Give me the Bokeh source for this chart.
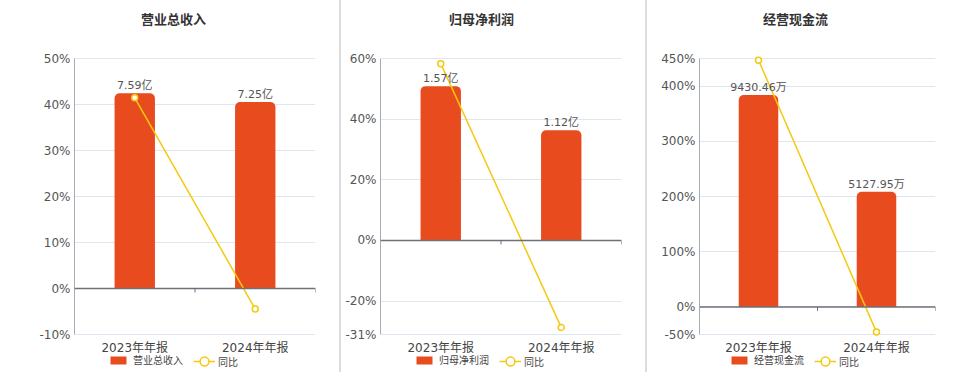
from bokeh.plotting import figure
from bokeh.models import (Range1d, FixedTicker, PrintfTickFormatter, Span, Label,
                          Legend, LegendItem, ColumnDataSource, Div)
from bokeh.layouts import row
from bokeh.embed import file_html
from bokeh.resources import INLINE
from bokeh.core.properties import value

# ---- data ----
periods = ["2023年年报", "2024年年报"]

revenue = [7.59, 7.25]
revenue_labels = ["7.59亿", "7.25亿"]
revenue_yoy = [41.46, -4.48]
revenue_ticks = [-10, 0, 10, 20, 30, 40, 50]

profit = [1.57, 1.12]
profit_labels = ["1.57亿", "1.12亿"]
profit_yoy = [58.3, -28.66]
profit_ticks = [-31, -20, 0, 20, 40, 60]

cashflow = [9430.46, 5127.95]
cashflow_labels = ["9430.46万", "5127.95万"]
cashflow_yoy = [447.0, -45.62]
cashflow_ticks = [-50, 0, 100, 200, 300, 400, 450]

titles = ["营业总收入", "归母净利润", "经营现金流"]
yoy_name = "同比"

# ---- style / layout ----
FONT = "DejaVu Sans, Noto Sans CJK SC"
RED = "#E84C1E"
YEL = "#F5C911"
H = 372
PLOT_TOP = 58      # pixel row of the top tick
PLOT_BOTTOM = 334  # pixel row of the bottom tick
SPAN_PX = PLOT_BOTTOM - PLOT_TOP


def panel(title, vals, labels, yoy, ticks, width, bl, br, bar_max, title_x, legend_x):
    ymin, ymax = ticks[0], ticks[-1]
    k = (ymax - ymin) / SPAN_PX
    y_lo = ymin - (H - PLOT_BOTTOM) * k
    y_hi = ymax + PLOT_TOP * k
    p = figure(width=width, height=H, x_range=Range1d(0, 2), y_range=Range1d(y_lo, y_hi),
               output_backend="svg", toolbar_location=None, title=None, x_axis_location=None,
               min_border_left=bl, min_border_right=br, min_border_top=0, min_border_bottom=0)
    p.outline_line_color = None
    p.background_fill_color = "white"
    p.border_fill_color = "white"
    bscale = bar_max / ymax
    p.extra_y_ranges = {"bars": Range1d(y_lo * bscale, y_hi * bscale)}

    src = ColumnDataSource(dict(x=[0.5, 1.5], v=vals, lab=labels, yoy=yoy,
                                per=periods, base=[ymin, ymin]))

    # y axis
    p.yaxis.ticker = FixedTicker(ticks=ticks)
    p.yaxis.bounds = (ymin, ymax)
    p.ygrid.ticker = FixedTicker(ticks=ticks)
    p.yaxis.formatter = PrintfTickFormatter(format="%d%%")
    p.yaxis.axis_line_color = "#A8ABB2"
    p.yaxis.major_tick_in = 0
    p.yaxis.major_tick_out = 0
    p.yaxis.minor_tick_in = 0
    p.yaxis.minor_tick_out = 0
    p.yaxis.major_label_standoff = 4
    p.yaxis.major_label_text_font_size = "12px"
    p.yaxis.major_label_text_color = "#555555"
    p.yaxis.major_label_text_font = FONT
    p.ygrid.grid_line_color = "#E0E6F1"
    p.ygrid.bounds = (ymin, ymax)
    p.xgrid.visible = False

    bars = p.vbar(x="x", top="v", bottom=0, width=0.335, y_range_name="bars", source=src,
                  fill_color=RED, line_color=None, border_radius=(5, 5, 0, 0))

    # category axis along zero
    p.add_layout(Span(location=0, dimension="width", line_color="#6E7079", line_width=1.5))
    d = 4 * k
    p.segment(x0=[1, 2], y0=[0, 0], x1=[1, 2], y1=[-d, -d], line_color="#6E7079", line_width=1)
    p.text(x="x", y="base", text="per", source=src, text_align="center",
           text_baseline="middle", y_offset=13, text_font_size="12px", text_color="#444444",
           text_font=value(FONT))

    ln = p.line(x="x", y="yoy", source=src, line_color=YEL, line_width=1.5)
    sc = p.scatter(x="x", y="yoy", source=src, size=6, marker="circle", fill_color="white",
                   line_color=YEL, line_width=1.5)

    p.text(x="x", y="v", text="lab", y_range_name="bars", source=src, text_align="center",
           text_baseline="bottom", y_offset=-1, text_font_size="11px", text_color="#555555",
           text_font=value(FONT))

    p.add_layout(Label(x=title_x, y=H - 19, x_units="screen", y_units="screen", text=title,
                       text_align="center", text_baseline="middle", text_font_size="13px",
                       text_font_style="bold", text_color="#333333", text_font=FONT))

    common = dict(orientation="horizontal", padding=0, margin=0, spacing=0,
                  background_fill_alpha=0, border_line_color=None, label_text_font_size="10px",
                  label_text_font=FONT, label_text_color="#444444", label_height=10)
    leg1 = Legend(items=[LegendItem(label=title, renderers=[bars])], location=(legend_x - 2, 5),
                  glyph_width=20, glyph_height=10, label_standoff=5, **common)
    leg2 = Legend(items=[LegendItem(label=yoy_name, renderers=[ln, sc])],
                  location=(legend_x + 83, 0), glyph_width=22, glyph_height=22,
                  label_standoff=3, **common)
    p.add_layout(leg1)
    p.add_layout(leg2)
    return p


p1 = panel(titles[0], revenue, revenue_labels, revenue_yoy, revenue_ticks,
           339, 74, 24, 8.94, 99, 36)
p2 = panel(titles[1], profit, profit_labels, profit_yoy, profit_ticks,
           304, 39, 24, 1.851, 101, 36)
p3 = panel(titles[2], cashflow, cashflow_labels, cashflow_yoy, cashflow_ticks,
           313, 52, 25, 11060, 96, 32)

sep1 = Div(text="", width=2, height=H, margin=0, styles={"background-color": "#DDDDDD"})
sep2 = Div(text="", width=2, height=H, margin=0, styles={"background-color": "#DDDDDD"})

layout = row(p1, sep1, p2, sep2, p3)
open("out.html", "w").write(file_html(layout, INLINE))
